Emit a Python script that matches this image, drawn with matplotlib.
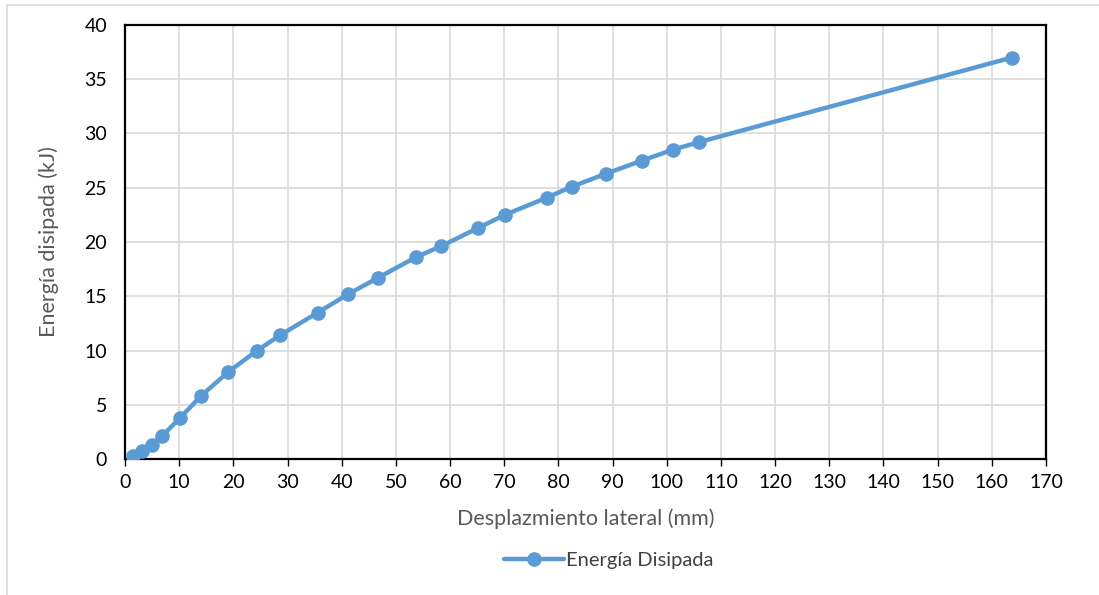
import matplotlib
matplotlib.use("Agg")
import matplotlib.pyplot as plt
from matplotlib.lines import Line2D

desplazamiento = [1.5, 3.1, 5.0, 6.8, 10.2, 14.0, 19.0, 24.4, 28.6, 35.6, 41.2, 46.7,
                  53.7, 58.3, 65.2, 70.1, 77.9, 82.5, 88.8, 95.4, 101.1, 105.9, 163.7]
energia = [0.25, 0.7, 1.3, 2.1, 3.8, 5.8, 8.0, 10.0, 11.4, 13.5, 15.2, 16.7,
           18.6, 19.6, 21.3, 22.5, 24.1, 25.1, 26.3, 27.5, 28.5, 29.2, 37.0]
xticks = list(range(0, 171, 10))
yticks = list(range(0, 41, 5))

W, H = 1099, 595
fig = plt.figure(figsize=(W / 100, H / 100), dpi=100)
font = ["Lato", "DejaVu Sans"]

# outer chart border
fig.add_artist(Line2D([7 / W, 1], [1 - 5 / H, 1 - 5 / H], color="#d9d9d9", lw=1.2, transform=fig.transFigure))
fig.add_artist(Line2D([7 / W, 7 / W], [0, 1 - 5 / H], color="#d9d9d9", lw=1.2, transform=fig.transFigure))

ax = fig.add_axes([125 / W, 1 - 459 / H, (1046 - 125) / W, (459 - 25) / H])
ax.plot(desplazamiento, energia, color="#5B9BD5", lw=3.2, marker="o", ms=9.5,
        solid_capstyle="round", label="Energía Disipada", zorder=3)
ax.set_xlim(0, 170)
ax.set_ylim(0, 40)
ax.set_xticks(xticks)
ax.set_yticks(yticks)
ax.grid(True, color="#d9d9d9", lw=1.2, zorder=0)
for s in ax.spines.values():
    s.set_color("black")
    s.set_linewidth(1.6)
ax.tick_params(axis="x", length=5, width=1, color="black", direction="out", pad=6)
ax.tick_params(axis="y", length=0, pad=13)
for lab in ax.get_xticklabels() + ax.get_yticklabels():
    lab.set_family(font)
    lab.set_fontsize(14)
    lab.set_color("black")

ax.set_xlabel("Desplazmiento lateral (mm)", family=font, fontsize=15.5, color="#595959", labelpad=12)
ax.set_ylabel("Energía disipada (kJ)", family=font, fontsize=15.5, color="#595959", labelpad=18)

leg = fig.legend(loc="center", bbox_to_anchor=(0.554, 1 - 560 / H), frameon=False,
                 prop={"family": font, "size": 14.5}, handlelength=3.0, handletextpad=0.1)
for t in leg.get_texts():
    t.set_color("#404040")

fig.savefig("out.png", dpi=100)
